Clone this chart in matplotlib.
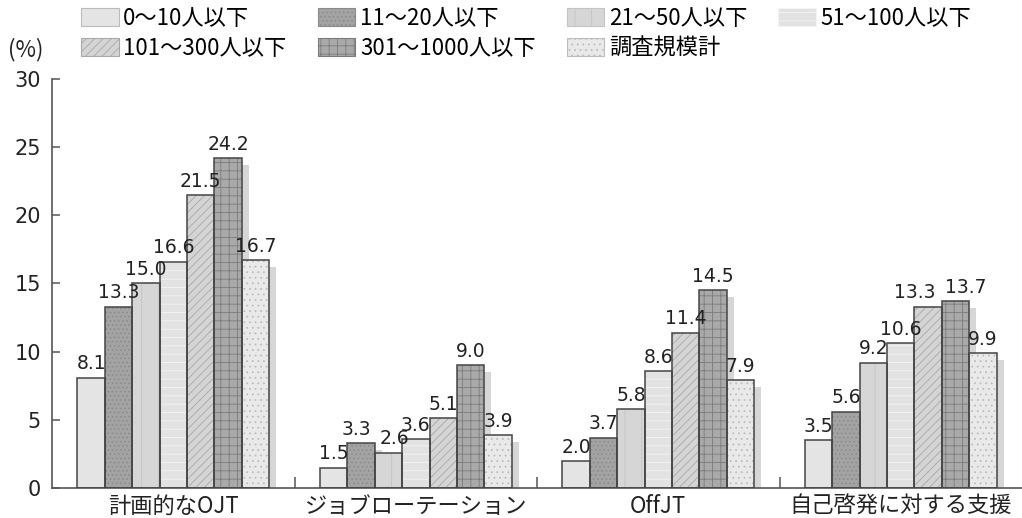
import matplotlib
matplotlib.use("Agg")
import matplotlib.pyplot as plt
from matplotlib.patches import Patch
import numpy as np

plt.rcParams["font.family"] = ["Noto Sans CJK JP", "DejaVu Sans"]
plt.rcParams["hatch.linewidth"] = 0.6

CATEGORIES = ["計画的なOJT", "ジョブローテーション", "OffJT", "自己啓発に対する支援"]

SIZE_LABELS = [
    "0～10人以下",
    "11～20人以下",
    "21～50人以下",
    "51～100人以下",
    "101～300人以下",
    "301～1000人以下",
    "調査規模計",
]

VAL_0_10 = [8.1, 1.5, 2.0, 3.5]
VAL_11_20 = [13.3, 3.3, 3.7, 5.6]
VAL_21_50 = [15.0, 2.6, 5.8, 9.2]
VAL_51_100 = [16.6, 3.6, 8.6, 10.6]
VAL_101_300 = [21.5, 5.1, 11.4, 13.3]
VAL_301_1000 = [24.2, 9.0, 14.5, 13.7]
VAL_TOTAL = [16.7, 3.9, 7.9, 9.9]

SERIES = [VAL_0_10, VAL_11_20, VAL_21_50, VAL_51_100,
          VAL_101_300, VAL_301_1000, VAL_TOTAL]

# fill colour, hatch pattern, hatch colour for each size class
STYLES = [
    ("#e4e4e4", "", "#e4e4e4"),
    ("#a3a3a3", "....", "#8a8a8a"),
    ("#d6d6d6", "|", "#c4c4c4"),
    ("#e2e2e2", "--", "#f4f4f4"),
    ("#d4d4d4", "////", "#a8a8a8"),
    ("#a9a9a9", "++", "#7c7c7c"),
    ("#e9e9e9", "...", "#bdbdbd"),
]

EDGE = "#444444"
SHADOW = "#d6d6d6"
NUM_FONT = "DejaVu Sans"

# sideways nudges (points) for value labels that would collide
LABEL_NUDGE = {(1, 1): -3, (2, 1): 4, (4, 3): -10, (5, 3): 7}


def draw_chart() -> None:
    fig = plt.figure(figsize=(10.22, 5.18), dpi=100)
    ax = fig.add_axes([0.051, 0.058, 0.949, 0.7895])

    x = np.arange(len(CATEGORIES))
    n = len(SERIES)
    width = 0.113

    for j, vals in enumerate(SERIES):
        pos = x + (j - (n - 1) / 2) * width
        vals = np.array(vals)
        face, hatch, hcol = STYLES[j]

        # drop shadow, offset right and down
        ax.bar(pos + 0.029, vals - 0.5, width=width, color=SHADOW,
               linewidth=0, zorder=1)
        # textured fill
        ax.bar(pos, vals, width=width, color=face, hatch=hatch,
               edgecolor=hcol, linewidth=0, zorder=2)
        # outline
        ax.bar(pos, vals, width=width, fill=False, edgecolor=EDGE,
               linewidth=1.1, zorder=3)

        for k, (px, v) in enumerate(zip(pos, vals)):
            ax.annotate(f"{v:.1f}", (px, v),
                        xytext=(LABEL_NUDGE.get((j, k), 0), 3),
                        textcoords="offset points", ha="center",
                        va="bottom", fontsize=13.5, family=NUM_FONT,
                        color="#222222", zorder=4)

    ax.set_xlim(-0.5, 3.5)
    ax.set_ylim(0, 30)
    ax.set_yticks(range(0, 31, 5))
    ax.set_yticklabels([str(v) for v in range(0, 31, 5)], family=NUM_FONT)
    ax.set_xticks(x)
    ax.set_xticklabels(CATEGORIES, fontsize=16, color="#222222")
    ax.set_xticks([0.5, 1.5, 2.5], minor=True)

    ax.tick_params(axis="x", which="major", length=0, pad=5)
    ax.tick_params(axis="x", which="minor", direction="in", length=8,
                   width=1.1, color="#555555")
    ax.tick_params(axis="y", direction="in", length=6, width=1.1,
                   color="#555555", labelsize=15, labelcolor="#222222",
                   pad=8)

    for side in ["top", "right"]:
        ax.spines[side].set_visible(False)
    for side in ["left", "bottom"]:
        ax.spines[side].set_color("#555555")
        ax.spines[side].set_linewidth(1.2)

    handles = [
        Patch(facecolor=f, hatch=h, edgecolor=hc if h else "#bbbbbb",
              linewidth=0.8)
        for f, h, hc in STYLES
    ]
    # column-major order so the legend reads row by row
    order = [0, 4, 1, 5, 2, 6, 3]
    fig.legend([handles[i] for i in order],
               [SIZE_LABELS[i] for i in order],
               ncol=4, loc="upper left", bbox_to_anchor=(0.075, 0.995),
               frameon=False, fontsize=16, handlelength=1.7,
               handleheight=0.85, handletextpad=0.2, columnspacing=1.4,
               labelspacing=0.3, borderpad=0.2, borderaxespad=0)

    fig.text(0.008, 0.905, "(%)", fontsize=16, color="#222222",
             va="center", ha="left")

    fig.savefig("out.png", dpi=100)


if __name__ == "__main__":
    draw_chart()
